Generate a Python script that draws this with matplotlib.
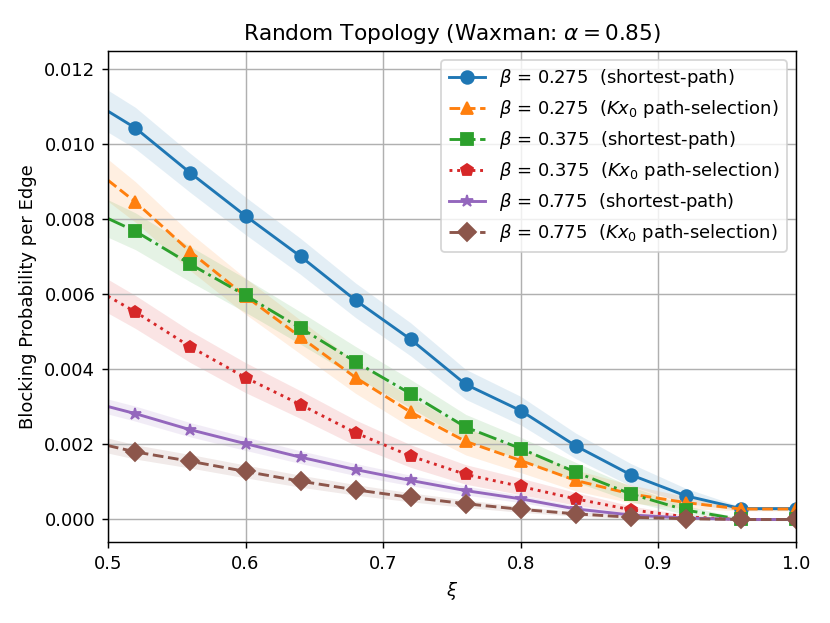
import matplotlib
matplotlib.use('Agg')
import matplotlib.pyplot as plt

xi = [0.50, 0.52, 0.56, 0.60, 0.64, 0.68, 0.72, 0.76, 0.80, 0.84, 0.88, 0.92, 0.96, 1.00]

# blocking probability per edge
sp_275 = [0.01088, 0.01043, 0.00923, 0.00809, 0.00701, 0.00584, 0.00480, 0.00360,
          0.00290, 0.00196, 0.00119, 0.00063, 0.00029, 0.00029]
kx_275 = [0.00904, 0.00846, 0.00713, 0.00595, 0.00486, 0.00378, 0.00286, 0.00208,
          0.00157, 0.00104, 0.00068, 0.00045, 0.00028, 0.00028]
sp_375 = [0.00802, 0.00768, 0.00680, 0.00597, 0.00510, 0.00420, 0.00335, 0.00246,
          0.00189, 0.00126, 0.00068, 0.00025, 0.00000, 0.00000]
kx_375 = [0.00595, 0.00553, 0.00460, 0.00378, 0.00306, 0.00231, 0.00169, 0.00120,
          0.00088, 0.00055, 0.00026, 0.00007, 0.00000, 0.00000]
sp_775 = [0.00301, 0.00282, 0.00239, 0.00202, 0.00166, 0.00133, 0.00104, 0.00077,
          0.00055, 0.00028, 0.00012, 0.00004, 0.00000, 0.00000]
kx_775 = [0.00197, 0.00180, 0.00155, 0.00128, 0.00102, 0.00079, 0.00059, 0.00042,
          0.00027, 0.00015, 0.00006, 0.00002, 0.00000, 0.00000]

# half-width of the shaded bands
err_sp_275 = [0.00056, 0.00055, 0.00052, 0.00050, 0.00048, 0.00046, 0.00044, 0.00040,
              0.00038, 0.00034, 0.00030, 0.00020, 0.00005, 0.00005]
err_kx_275 = [0.00056, 0.00054, 0.00050, 0.00048, 0.00045, 0.00042, 0.00040, 0.00036,
              0.00032, 0.00028, 0.00024, 0.00016, 0.00005, 0.00005]
err_sp_375 = [0.00050, 0.00049, 0.00047, 0.00045, 0.00043, 0.00041, 0.00038, 0.00034,
              0.00030, 0.00026, 0.00020, 0.00012, 0.00003, 0.00003]
err_kx_375 = [0.00045, 0.00044, 0.00042, 0.00040, 0.00037, 0.00034, 0.00030, 0.00026,
              0.00022, 0.00017, 0.00010, 0.00005, 0.00002, 0.00002]
err_sp_775 = [0.00020, 0.00020, 0.00019, 0.00018, 0.00017, 0.00016, 0.00014, 0.00012,
              0.00010, 0.00008, 0.00005, 0.00003, 0.00001, 0.00001]
err_kx_775 = [0.00020, 0.00019, 0.00018, 0.00017, 0.00016, 0.00014, 0.00012, 0.00010,
              0.00008, 0.00006, 0.00004, 0.00002, 0.00001, 0.00001]

series = [
    (sp_275, err_sp_275, 'C0', '-', 'o', r'$\beta$ = 0.275  (shortest-path)'),
    (kx_275, err_kx_275, 'C1', '--', '^', r'$\beta$ = 0.275  ($Kx_0$ path-selection)'),
    (sp_375, err_sp_375, 'C2', '-.', 's', r'$\beta$ = 0.375  (shortest-path)'),
    (kx_375, err_kx_375, 'C3', ':', 'p', r'$\beta$ = 0.375  ($Kx_0$ path-selection)'),
    (sp_775, err_sp_775, 'C4', '-', '*', r'$\beta$ = 0.775  (shortest-path)'),
    (kx_775, err_kx_775, 'C5', '--', 'D', r'$\beta$ = 0.775  ($Kx_0$ path-selection)'),
]

fig = plt.figure(figsize=(830 / 130, 623 / 130), dpi=130)
ax = fig.add_axes([0.130, 0.130, 0.829, 0.788])

for y, e, c, ls, mk, lab in series:
    lo = [a - b for a, b in zip(y, e)]
    hi = [a + b for a, b in zip(y, e)]
    ax.fill_between(xi, lo, hi, color=c, alpha=0.12, linewidth=0)
    ax.plot(xi, y, color=c, linestyle=ls, marker=mk, markersize=7,
            linewidth=1.6, markevery=list(range(1, len(xi))), label=lab)

ax.set_xlim(0.5, 1.0)
ax.set_ylim(-0.0006, 0.01248)
ax.set_xticks([0.5, 0.6, 0.7, 0.8, 0.9, 1.0])
ax.set_xlabel(r'$\xi$')
ax.set_ylabel('Blocking Probability per Edge')
ax.set_title(r'Random Topology (Waxman: $\alpha = 0.85$)')
ax.grid(True)
ax.legend(loc='upper right')

fig.savefig('out.png', dpi=130)
